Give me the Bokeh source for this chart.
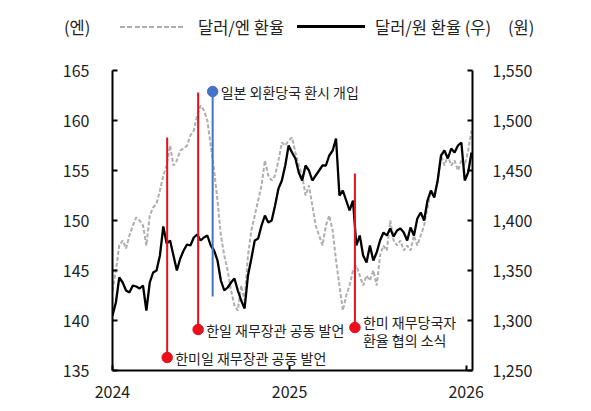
import datetime as dt
from bokeh.plotting import figure
from bokeh.layouts import column
from bokeh.models import (Range1d, LinearAxis, FixedTicker, DatetimeTickFormatter,
                          NumeralTickFormatter, ColumnDataSource, Div)
from bokeh.core.properties import value
from bokeh.embed import file_html
from bokeh.resources import INLINE

FONT = "Noto Sans CJK KR"

# weekly samples starting 2024-01-01
won = [1305, 1318, 1343, 1338, 1330, 1328, 1335, 1334, 1332, 1335,
       1310, 1338, 1348, 1350, 1365, 1394, 1377, 1380, 1365, 1350,
       1362, 1370, 1376, 1375, 1383, 1386, 1380, 1383, 1385, 1375,
       1370, 1360, 1340, 1330, 1333, 1338, 1342, 1330, 1320, 1312,
       1345, 1362, 1380, 1382, 1395, 1405, 1398, 1400, 1415, 1432,
       1440, 1455, 1475, 1468, 1462, 1448, 1440, 1455, 1450, 1440,
       1445, 1450, 1455, 1455, 1465, 1470, 1482, 1425, 1430, 1420,
       1410, 1420, 1375, 1385, 1365, 1358, 1375, 1360, 1368, 1380,
       1388, 1385, 1392, 1384, 1390, 1392, 1388, 1380, 1393, 1385,
       1402, 1408, 1400, 1420, 1430, 1423, 1440, 1465, 1470, 1462,
       1472, 1468, 1475, 1478, 1440, 1448, 1468]

yen = [143.0, 145.0, 147.5, 148.0, 147.2, 148.5, 149.5, 150.3, 150.0, 149.5,
       147.5, 150.5, 151.3, 151.7, 153.0, 154.5, 155.5, 157.5, 155.5, 156.0,
       157.0, 157.2, 157.5, 158.5, 159.0, 160.5, 161.5, 161.0, 160.0, 157.5,
       155.0, 152.0, 148.5, 146.5, 145.0, 143.0, 141.5, 141.0, 143.5, 142.0,
       146.5, 149.0, 150.5, 152.0, 153.5, 156.0, 154.5, 154.0, 154.5, 156.0,
       157.8, 157.5, 158.0, 158.3, 156.8, 155.5, 154.5, 152.5, 153.5, 151.5,
       149.5, 148.5, 147.5, 149.5, 150.5, 149.0, 146.0, 143.5, 141.0, 142.5,
       143.5, 145.0, 145.5, 144.5, 143.5, 144.5, 144.0, 145.0, 143.5, 146.5,
       147.5, 147.0, 150.0, 148.0, 147.5, 148.0, 147.0, 147.5, 147.0, 148.5,
       147.5, 148.5, 149.5, 151.3, 153.0, 152.5, 154.0, 156.5, 155.5, 156.5,
       155.5, 156.0, 155.0, 156.0, 155.5, 157.0, 159.0]

start = dt.datetime(2024, 1, 1)
dates = [start + dt.timedelta(days=7 * i) for i in range(len(won))]

year_ticks = [dt.datetime(2024, 1, 1), dt.datetime(2025, 1, 1), dt.datetime(2026, 1, 1)]
yen_ticks = [135, 140, 145, 150, 155, 160, 165]
won_ticks = [1250, 1300, 1350, 1400, 1450, 1500, 1550]

# events (date, top of line, bottom of line, dot position on yen axis)
ev_dates = [dt.datetime(2024, 4, 23), dt.datetime(2024, 6, 26),
            dt.datetime(2024, 7, 26), dt.datetime(2025, 5, 16)]
ev_top = [158.3, 162.8, 162.9, 154.7]
ev_bottom = [136.3, 139.1, 142.4, 139.3]
ev_dot = [136.3, 139.1, 162.9, 139.3]
ev_color = ["#E8101A", "#E8101A", "#4472C4", "#E8101A"]

lab_dates = [dt.datetime(2024, 4, 23), dt.datetime(2024, 6, 26),
             dt.datetime(2024, 7, 26), dt.datetime(2025, 5, 16), dt.datetime(2025, 5, 16)]
lab_y = [136.3, 139.1, 162.9, 139.3, 139.3]
lab_text = ["한미일 재무장관 공동 발언", "한일 재무장관 공동 발언", "일본 외환당국 환시 개입",
            "한미 재무당국자", "환율 협의 소식"]
lab_dy = [0, 0, 0, -6, 12.5]

legend_labels = ["달러/엔 환율", "달러/원 환율 (우)"]
unit_labels = ["(엔)", "(원)"]

W = 591
HDR_H = 48
MAIN_H = 411 - HDR_H

# ---- header: legend + unit labels as HTML text ----
def span(txt, left):
    return (f'<span style="position:absolute;left:{left}px;top:16.7px;line-height:20px;'
            f'white-space:nowrap;">{txt}</span>')

hdr_html = (
    f'<div style="position:relative;width:{W}px;height:{HDR_H}px;'
    f'font-family:\'{FONT}\';font-size:16.5px;color:#222222;">'
    + span(unit_labels[0], 64)
    + '<div style="position:absolute;left:120px;top:25.7px;width:66px;height:2px;'
      'background:repeating-linear-gradient(90deg,#AEAEAE 0 5px,transparent 5px 7.3px);"></div>'
    + span(legend_labels[0], 198)
    + '<div style="position:absolute;left:297px;top:25.2px;width:68px;height:3px;'
      'background:#000000;"></div>'
    + span(legend_labels[1], 375)
    + span(unit_labels[1], 508)
    + '</div>'
)
hdr = Div(text=hdr_html, width=W, height=HDR_H, margin=0)

# ---- main chart ----
p = figure(width=W, height=MAIN_H, x_axis_type="datetime",
           x_range=Range1d(start, start + dt.timedelta(days=744)),
           y_range=Range1d(135, 165),
           output_backend="svg", toolbar_location=None,
           min_border_left=112, min_border_right=119, min_border_top=70 - HDR_H,
           min_border_bottom=41)
p.outline_line_color = None
p.xgrid.visible = False
p.ygrid.visible = False

p.extra_y_ranges = {"won": Range1d(1250, 1550)}

def style_axis(ax, standoff):
    ax.axis_line_color = "black"
    ax.axis_line_width = 2
    ax.major_tick_line_color = "black"
    ax.major_tick_line_width = 2
    ax.major_tick_in = 5
    ax.major_tick_out = 0
    ax.minor_tick_line_color = None
    ax.major_label_text_font = FONT
    ax.major_label_text_font_size = "16px"
    ax.major_label_text_color = "#222222"
    ax.major_label_standoff = standoff

style_axis(p.yaxis[0], 23)
p.yaxis[0].ticker = FixedTicker(ticks=yen_ticks)

ax_r = LinearAxis(y_range_name="won", ticker=FixedTicker(ticks=won_ticks),
                  formatter=NumeralTickFormatter(format="0,0"))
style_axis(ax_r, 20)
p.add_layout(ax_r, "right")

xa = p.xaxis[0]
style_axis(xa, 15)
xa.ticker = FixedTicker(ticks=[t.timestamp() * 1000 for t in year_ticks])
xa.formatter = DatetimeTickFormatter(years="%Y", months="%Y", days="%Y", hours="%Y",
                                     minutes="%Y", seconds="%Y", milliseconds="%Y")

src = ColumnDataSource(dict(date=dates, won=won, yen=yen))
p.line("date", "yen", source=src, line_color="#AEAEAE", line_width=2, line_dash="4 2")
p.line("date", "won", source=src, line_color="black", line_width=2.3, y_range_name="won")

ev = ColumnDataSource(dict(date=ev_dates, top=ev_top, bottom=ev_bottom, dot=ev_dot, color=ev_color))
p.segment(x0="date", y0="bottom", x1="date", y1="top", source=ev, line_color="color", line_width=2)
p.scatter(x="date", y="dot", source=ev, size=10.5, fill_color="color", line_color="color")

lab = ColumnDataSource(dict(date=lab_dates, y=lab_y, text=lab_text, dy=lab_dy))
p.text(x="date", y="y", text="text", source=lab, x_offset=8, y_offset="dy",
       text_font=value(FONT), text_font_size="14px", text_color="#222222",
       text_baseline="middle", text_align="left")

layout = column(hdr, p, spacing=0)
open("out.html", "w").write(file_html(layout, INLINE))
